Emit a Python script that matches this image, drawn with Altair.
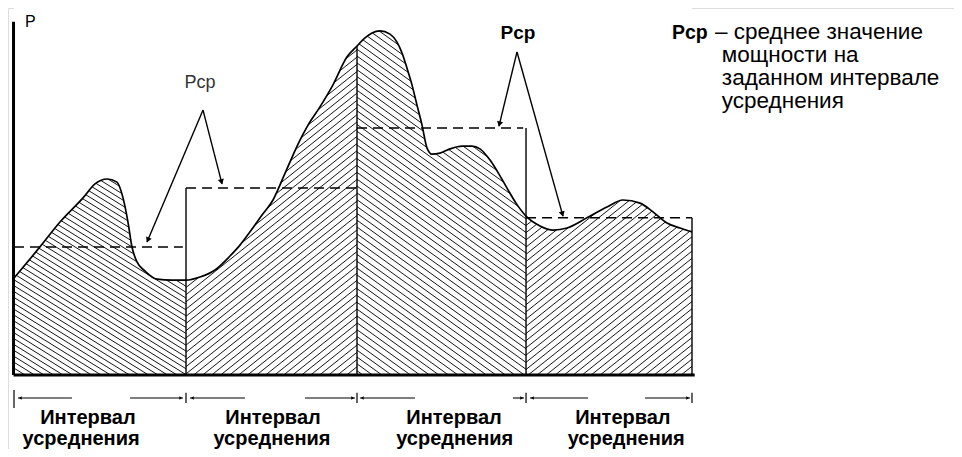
import math
import altair as alt
import pandas as pd

# ---------------- data ----------------
# time in arbitrary units (4 averaging intervals over 0..100), power P in arbitrary units
t_curve = [0, 3.83, 6.78, 10.18, 11.95, 13.72, 15.19, 16.08, 16.81, 17.40, 18.14, 19.32, 21.09, 23.30, 25.37,
           27.43, 29.65, 31.86, 33.33, 34.81, 36.58, 38.20, 39.68, 40.71, 42.18, 43.22, 45.13, 47.05, 49.12, 50.59,
           51.77, 52.80, 53.98, 55.46, 56.49, 57.23, 57.96, 58.70, 59.44, 60.18, 60.91, 61.65, 62.83, 64.31, 66.08,
           67.55, 68.73, 70.21, 71.68, 72.86, 74.04, 75.52,
           77.58, 79.50, 81.56, 84.51, 87.46, 89.82, 92.33, 94.25, 96.31, 98.23, 100]
p_curve = [27.7, 36.6, 43.7, 50.6, 54.6, 56.0, 55.1, 50.6, 43.7, 36.6, 32.3, 29.7, 27.4, 27.1, 27.1,
           28.0, 30.0, 34.0, 37.1, 40.9, 45.7, 50.0, 56.3, 60.9, 67.1, 70.9, 76.6, 82.9, 90.9, 94.0,
           96.3, 97.7, 98.3, 97.4, 95.1, 92.0, 87.7, 82.9, 77.1, 71.4, 64.9, 63.1, 63.4, 64.6, 65.4,
           65.4, 64.6, 61.4, 56.9, 52.9, 49.1, 45.4,
           42.6, 41.4, 42.0, 44.9, 48.0, 50.0, 49.1, 46.6, 43.4, 42.0, 40.9]

bounds = [0, 25.37, 50.59, 75.52, 100]            # interval boundaries
p_avg = [36.6, 53.4, 70.6, 44.9]                  # Pcp per interval
avg_t1 = [0, 25.37, 50.59, 75.52]
avg_t2 = [24.9, 50.59, 75.1, 100]
bound_top = [53.4, 94.0, 70.6, 44.9]              # upper ends of boundary lines (t = bounds[1:])

# hatch style per interval: direction (-1 = "\", +1 = "/"), slope, horizontal gap (px)
hatch_dir = [-1, 1, -1, 1]
hatch_slope = [0.62, 0.8, 0.72, 0.8]
hatch_gap = [9.5, 9, 9.5, 9]

# arrows: apex and two tips
arrow_apex_t = [27.88, 74.19]
arrow_apex_p = [75.7, 92.3]
arrow_tip_t = [[19.62, 30.68], [71.53, 80.97]]
arrow_tip_p = [[38.0, 54.6], [71.1, 45.4]]

# dimension line under the axis
dim_p = -6.57
dim_t1 = [0.59, 17.11, 25.96, 42.92, 51.03, 73.6, 76.11, 93.07]
dim_t2 = [8.55, 24.93, 34.07, 50.29, 59.14, 75.22, 84.66, 99.7]

label_top = "Интервал"
label_bottom = "усреднения"
label_top_t = [10.9, 38.2, 64.9, 89.8]
label_bot_t = [9.9, 38.05, 65.0, 90.3]

legend_lines = ["мощности на", "заданном интервале", "усреднения"]
legend_line_p = [89.5, 82.9, 76.3]

# ---------------- scales ----------------
W, H = 946, 441
X_DOM = [-6 / 6.78, 940 / 6.78]
Y_DOM = [(367 - 441) / 3.5, 367 / 3.5]
PX_T = W / (X_DOM[1] - X_DOM[0])
PX_P = H / (Y_DOM[1] - Y_DOM[0])

xs = alt.Scale(domain=X_DOM, nice=False, zero=False)
ys = alt.Scale(domain=Y_DOM, nice=False, zero=False)


def u_of(t):
    return (t - X_DOM[0]) * PX_T


def v_of(p):
    return (Y_DOM[1] - p) * PX_P


def t_of(u):
    return u / PX_T + X_DOM[0]


def p_of(v):
    return Y_DOM[1] - v / PX_P


# ---------------- hatch segments (clipped to each interval box) ----------------
hatch = []
for i in range(4):
    a, b = u_of(bounds[i]), u_of(bounds[i + 1])
    pmax = max(p for t, p in zip(t_curve, p_curve) if bounds[i] <= t <= bounds[i + 1]) + 3
    top, bot = v_of(pmax), v_of(0)
    s, d = hatch_slope[i], hatch_gap[i]
    if hatch_dir[i] < 0:
        k = top - s * b
        while k <= bot - s * a:
            u1 = max(a, (top - k) / s)
            u2 = min(b, (bot - k) / s)
            if u2 > u1:
                hatch.append(dict(x=t_of(u1), y=p_of(s * u1 + k), x2=t_of(u2), y2=p_of(s * u2 + k)))
            k += s * d
    else:
        k = top + s * a
        while k <= bot + s * b:
            u1 = max(a, (k - bot) / s)
            u2 = min(b, (k - top) / s)
            if u2 > u1:
                hatch.append(dict(x=t_of(u1), y=p_of(k - s * u1), x2=t_of(u2), y2=p_of(k - s * u2)))
            k += s * d
hatch_df = pd.DataFrame(hatch)

curve_df = pd.DataFrame({"t": t_curve, "p": p_curve, "top": [Y_DOM[1]] * len(t_curve)})


def X(f):
    return alt.X(f, type="quantitative", scale=xs, axis=None)


def Y(f):
    return alt.Y(f, type="quantitative", scale=ys, axis=None)


def seg_layer(df, **mk):
    return alt.Chart(df).mark_rule(**mk).encode(
        x=X("x"), y=Y("y"), x2=alt.X2("x2"), y2=alt.Y2("y2"))


layers = []
# hatch
layers.append(seg_layer(hatch_df, color="#151515", strokeWidth=1.0))
# white mask above the curve
layers.append(alt.Chart(curve_df).mark_area(color="white", interpolate="monotone", opacity=1).encode(
    x=X("t"), y=Y("p"), y2=alt.Y2("top")))
# curve
layers.append(alt.Chart(curve_df).mark_line(color="black", strokeWidth=1.7, interpolate="monotone").encode(
    x=X("t"), y=Y("p")))

# axes (P axis and baseline)
axes_df = pd.DataFrame([
    dict(x=-0.07, y=0, x2=-0.07, y2=100.9),
    dict(x=-0.07, y=0, x2=100.4, y2=0),
])
layers.append(seg_layer(axes_df, color="black", strokeWidth=3))

# interval boundaries
bnd_df = pd.DataFrame([dict(x=bt, y=0, x2=bt, y2=top) for bt, top in zip(bounds[1:], bound_top)])
layers.append(seg_layer(bnd_df, color="black", strokeWidth=1.4))

# dashed averages
avg_df = pd.DataFrame([dict(x=a, y=p, x2=b, y2=p) for a, b, p in zip(avg_t1, avg_t2, p_avg)])
layers.append(seg_layer(avg_df, color="black", strokeWidth=1.5, strokeDash=[10, 6]))

# arrows
arr_rows, head_rows = [], []
for i in range(2):
    for j in range(2):
        at, ap = arrow_apex_t[i], arrow_apex_p[i]
        tt, tp = arrow_tip_t[i][j], arrow_tip_p[i][j]
        arr_rows.append(dict(x=at, y=ap, x2=tt, y2=tp))
        dx = (tt - at) * PX_T
        dy = -(tp - ap) * PX_P
        ang = math.degrees(math.atan2(dx, -dy)) % 360
        L = math.hypot(dx, dy)
        back = 3.0
        head_rows.append(dict(x=tt - (tt - at) * back / L, y=tp - (tp - ap) * back / L, a=ang))
layers.append(seg_layer(pd.DataFrame(arr_rows), color="black", strokeWidth=1.4))
layers.append(alt.Chart(pd.DataFrame(head_rows)).mark_point(
    shape="triangle", filled=True, color="black", size=38, opacity=1).encode(
    x=X("x"), y=Y("y"), angle=alt.Angle("a:Q", scale=None)))

# dimension line
dim_df = pd.DataFrame([dict(x=a, y=dim_p, x2=b, y2=dim_p) for a, b in zip(dim_t1, dim_t2)])
layers.append(seg_layer(dim_df, color="black", strokeWidth=1.1))
tick_rows = [dict(x=bounds[0], y=-4.29, x2=bounds[0], y2=-9.43)]
tick_rows += [dict(x=bt, y=-5.1, x2=bt, y2=-8.0) for bt in bounds[1:]]
layers.append(seg_layer(pd.DataFrame(tick_rows), color="black", strokeWidth=1.2))
dh_rows = [dict(x=dim_t1[k] + 0.4, y=dim_p, a=270) for k in range(0, 8, 2)]
dh_rows += [dict(x=dim_t2[k] - 0.4, y=dim_p, a=90) for k in range(1, 8, 2)]
layers.append(alt.Chart(pd.DataFrame(dh_rows)).mark_point(
    shape="triangle", filled=True, color="black", size=12, opacity=1).encode(
    x=X("x"), y=Y("y"), angle=alt.Angle("a:Q", scale=None)))

# texts
FONT = "Liberation Sans"


def text_layer(df, **mk):
    return alt.Chart(df).mark_text(**mk).encode(x=X("x"), y=Y("y"), text="s:N")


layers.append(text_layer(pd.DataFrame([dict(x=1.62, y=99.4, s="P")]),
                         align="left", baseline="alphabetic", font=FONT, fontSize=16, color="black"))
layers.append(text_layer(pd.DataFrame([dict(x=27.43, y=82.0, s="Pcp")]),
                         align="center", baseline="alphabetic", font=FONT, fontSize=18, color="#333"))
layers.append(text_layer(pd.DataFrame([dict(x=74.34, y=96.0, s="Pcp")]),
                         align="center", baseline="alphabetic", font=FONT, fontSize=19, fontWeight="bold",
                         color="black"))
layers.append(text_layer(pd.DataFrame([dict(x=t, y=-14.0, s=label_top) for t in label_top_t]),
                         align="center", baseline="alphabetic", font=FONT, fontSize=20, fontWeight="bold",
                         color="black"))
layers.append(text_layer(pd.DataFrame([dict(x=t, y=-20.0, s=label_bottom) for t in label_bot_t]),
                         align="center", baseline="alphabetic", font=FONT, fontSize=20, fontWeight="bold",
                         color="black"))
# legend text on the right
layers.append(text_layer(pd.DataFrame([dict(x=97.05, y=96.0, s="Pcp")]),
                         align="left", baseline="alphabetic", font=FONT, fontSize=19.5, fontWeight="bold",
                         color="black"))
layers.append(text_layer(pd.DataFrame([dict(x=103.4, y=96.0, s="– среднее значение")]),
                         align="left", baseline="alphabetic", font=FONT, fontSize=22.5, color="black"))
layers.append(text_layer(pd.DataFrame([dict(x=104.4, y=p, s=s) for s, p in zip(legend_lines, legend_line_p)]),
                         align="left", baseline="alphabetic", font=FONT, fontSize=22.5, color="black"))

chart = alt.layer(*layers).properties(
    width=W, height=H, padding=0, autosize=alt.AutoSizeParams(type="none")
).configure_view(stroke=None).configure(background="white")

chart.save("out.html", embed_options={"renderer": "svg", "actions": False})
